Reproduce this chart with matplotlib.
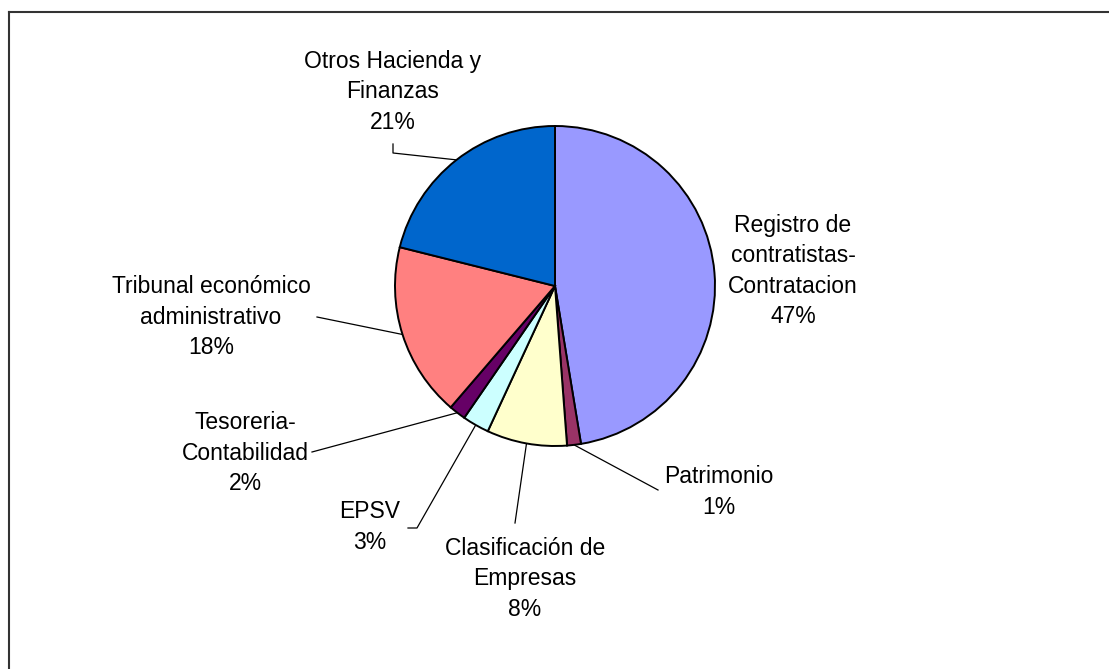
import matplotlib.pyplot as plt
from matplotlib.lines import Line2D
import numpy as np

plt.rcParams['font.family'] = ['Liberation Sans', 'DejaVu Sans']

# slices, clockwise from 12 o'clock
labels = ["Registro de\ncontratistas-\nContratacion", "Patrimonio",
          "Clasificación de\nEmpresas", "EPSV", "Tesoreria-\nContabilidad",
          "Tribunal económico\nadministrativo", "Otros Hacienda y\nFinanzas"]
values = [47.4, 1.4, 8.1, 2.7, 1.7, 17.6, 21.1]
pct_text = ["47%", "1%", "8%", "3%", "2%", "18%", "21%"]
colors = ["#9999FF", "#993366", "#FFFFCC", "#CCFFFF", "#660066", "#FF8080", "#0066CC"]

W, H = 1109, 669
fig = plt.figure(figsize=(W / 100, H / 100), dpi=100)
ax = fig.add_axes([0, 0, 1, 1])

def Y(p):
    # pixel row -> data y
    return H - p

cx, cy, r = 555, Y(286), 160
wedges, _ = ax.pie(values, colors=colors, startangle=90, counterclock=False,
                   center=(cx, cy), radius=r, frame=True,
                   wedgeprops=dict(edgecolor='black', linewidth=1.4))
ax.set_xlim(0, W)
ax.set_ylim(0, H)
ax.set_aspect('equal')
ax.axis('off')

# label block centres (pixels) and leader elbow points
text_pos = [(793, 271), (719, 492), (525, 579), (370, 527), (245, 453), (211, 317), (393, 92)]
leaders = [None, [(658, 490)], [(515, 523)], [(408, 528), (417, 528)],
           [(312, 452)], [(317, 317)], [(393, 144), (393, 153)]]

for w, lab, pc, pos, ld in zip(wedges, labels, pct_text, text_pos, leaders):
    ax.text(pos[0], Y(pos[1]), lab + "\n" + pc, ha='center', va='center',
            fontsize=16.5, linespacing=1.41, color='black')
    if ld is None:
        continue
    mid = np.deg2rad((w.theta1 + w.theta2) / 2)
    ex, ey = cx + r * np.cos(mid), cy + r * np.sin(mid)
    xs = [p[0] for p in ld] + [ex]
    ys = [Y(p[1]) for p in ld] + [ey]
    ax.plot(xs, ys, color='black', linewidth=0.9, zorder=0)

# chart area border (left and top edges visible)
fig.add_artist(Line2D([8.5 / W, 8.5 / W], [0, Y(11.5) / H], transform=fig.transFigure,
                      color='#333333', linewidth=1.5))
fig.add_artist(Line2D([8.5 / W, 1], [Y(11.5) / H, Y(11.5) / H], transform=fig.transFigure,
                      color='#333333', linewidth=1.5))

fig.savefig("out.png", dpi=100, facecolor='white')
